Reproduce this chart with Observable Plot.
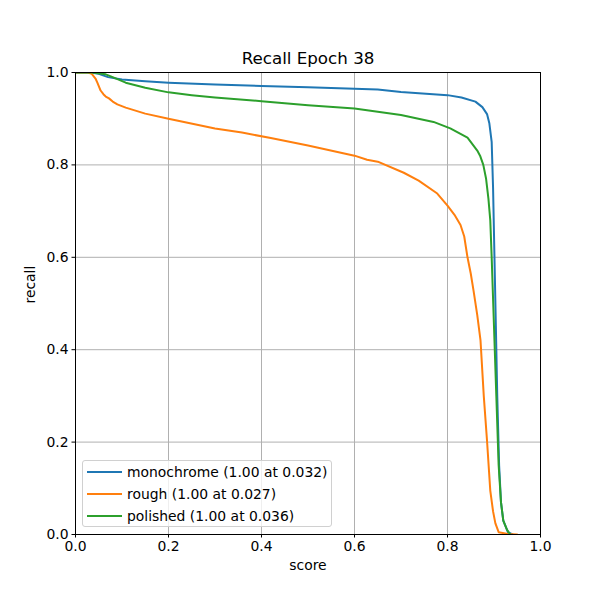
<!DOCTYPE html>
<html>
<head>
<meta charset="utf-8">
<script src="https://cdn.jsdelivr.net/npm/d3@7"></script>
<script src="https://cdn.jsdelivr.net/npm/@observablehq/plot@0.6"></script>
<style>
  body { margin: 0; background: #fff; font-family: "DejaVu Sans", sans-serif; }
  #wrap { position: relative; width: 600px; height: 600px; }
  #legend {
    position: absolute; left: 82px; top: 460px; width: 250px; height: 67px;
    border: 1px solid #d0d0d0; border-radius: 3px; background: rgba(255,255,255,0.8);
    box-sizing: border-box; font-size: 13.9px; color: #000;
  }
  .row { position: absolute; left: 4px; height: 22px; display: flex; align-items: center; white-space: nowrap; }
  .sw { display: inline-block; width: 35px; height: 2px; margin-right: 5px; }
</style>
</head>
<body>
<div id="wrap"><div id="chart"></div><div id="legend"></div></div>
<script>
const title = "Recall Epoch 38";
const xLabel = "score";
const yLabel = "recall";
const seriesNames = ["monochrome (1.00 at 0.032)", "rough (1.00 at 0.027)", "polished (1.00 at 0.036)"];
const seriesColors = ["#1f77b4", "#ff7f0e", "#2ca02c"];
const tickValues = [0, 0.2, 0.4, 0.6, 0.8, 1.0];

const monoX = [0, 0.032, 0.05, 0.07, 0.1, 0.15, 0.2, 0.3, 0.4, 0.5, 0.6, 0.65, 0.7, 0.8, 0.83, 0.86, 0.875, 0.885, 0.89, 0.895, 0.898, 0.901, 0.904, 0.907, 0.911, 0.915, 0.92, 0.93, 0.94];
const monoY = [1, 1, 0.997, 0.99, 0.985, 0.981, 0.978, 0.974, 0.971, 0.968, 0.965, 0.963, 0.958, 0.951, 0.946, 0.937, 0.925, 0.91, 0.89, 0.85, 0.75, 0.6, 0.45, 0.3, 0.15, 0.07, 0.03, 0.005, 0];

const roughX = [0, 0.027, 0.035, 0.043, 0.047, 0.054, 0.06, 0.065, 0.072, 0.08, 0.09, 0.108, 0.15, 0.2, 0.3, 0.358, 0.42, 0.5, 0.6, 0.627, 0.65, 0.706, 0.738, 0.778, 0.8, 0.815, 0.828, 0.836, 0.843, 0.85, 0.856, 0.864, 0.871, 0.878, 0.885, 0.892, 0.898, 0.903, 0.91, 0.93, 0.95];
const roughY = [1, 1, 0.997, 0.987, 0.978, 0.961, 0.953, 0.948, 0.944, 0.937, 0.931, 0.924, 0.911, 0.9, 0.879, 0.87, 0.858, 0.842, 0.82, 0.811, 0.807, 0.783, 0.766, 0.738, 0.712, 0.692, 0.67, 0.645, 0.6, 0.565, 0.528, 0.475, 0.42, 0.3, 0.203, 0.095, 0.05, 0.024, 0.005, 0.001, 0];

const polX = [0, 0.036, 0.065, 0.08, 0.108, 0.15, 0.2, 0.25, 0.3, 0.4, 0.5, 0.6, 0.7, 0.77, 0.806, 0.843, 0.864, 0.87, 0.877, 0.883, 0.888, 0.892, 0.895, 0.9, 0.905, 0.91, 0.915, 0.92, 0.928, 0.935];
const polY = [1, 1, 0.996, 0.99, 0.978, 0.967, 0.957, 0.951, 0.946, 0.938, 0.929, 0.922, 0.908, 0.893, 0.879, 0.859, 0.831, 0.82, 0.8, 0.77, 0.727, 0.68, 0.6, 0.45, 0.3, 0.15, 0.07, 0.03, 0.01, 0];

const seriesX = [monoX, roughX, polX];
const seriesY = [monoY, roughY, polY];
const data = seriesX.flatMap((xs, s) => xs.map((x, i) => ({x, y: seriesY[s][i], s: seriesNames[s]})));

const chart = Plot.plot({
  width: 600, height: 600,
  marginLeft: 75, marginRight: 60, marginTop: 72, marginBottom: 66,
  style: {fontFamily: "DejaVu Sans, sans-serif", fontSize: "13.9px", color: "#000", background: "#fff"},
  x: {domain: [0, 1]},
  y: {domain: [0, 1]},
  color: {domain: seriesNames, range: seriesColors},
  marks: [
    Plot.gridX(tickValues.slice(1, -1), {stroke: "#b0b0b0", strokeOpacity: 1, strokeWidth: 1}),
    Plot.gridY(tickValues.slice(1, -1), {stroke: "#b0b0b0", strokeOpacity: 1, strokeWidth: 1}),
    Plot.line(data, {x: "x", y: "y", z: "s", stroke: "s", strokeWidth: 2, clip: true}),
    Plot.frame({stroke: "#000", strokeWidth: 1}),
    Plot.axisX(tickValues, {tickSize: 3.5, tickPadding: 3.5, tickFormat: d3.format(".1f"), label: null, fontSize: 13.9}),
    Plot.axisY(tickValues, {tickSize: 3.5, tickPadding: 3.5, tickFormat: d3.format(".1f"), label: null, fontSize: 13.9}),
    Plot.text([xLabel], {frameAnchor: "bottom", dy: 35, fontSize: 13.9, text: d => d}),
    Plot.text([yLabel], {frameAnchor: "left", dx: -45, rotate: -90, fontSize: 13.9, text: d => d}),
    Plot.text([title], {frameAnchor: "top", dy: -20, fontSize: 16.7, text: d => d})
  ]
});
document.getElementById("chart").appendChild(chart);

const legend = document.getElementById("legend");
seriesNames.forEach((name, i) => {
  const row = document.createElement("div");
  row.className = "row";
  row.style.top = (0 + i * 22) + "px";
  const sw = document.createElement("span");
  sw.className = "sw";
  sw.style.background = seriesColors[i];
  row.appendChild(sw);
  row.appendChild(document.createTextNode(name));
  legend.appendChild(row);
});
</script>
</body>
</html>
